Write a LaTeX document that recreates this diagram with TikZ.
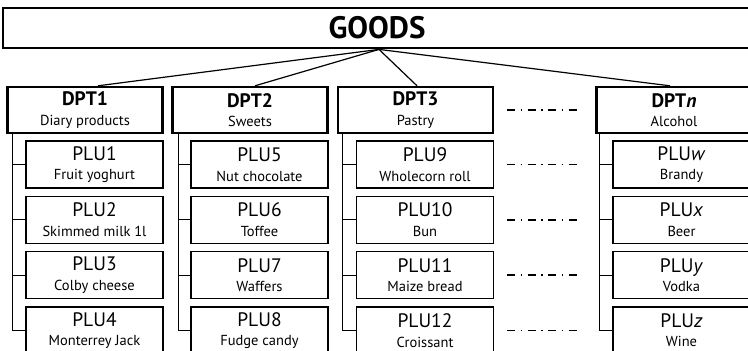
\documentclass[tikz,border=0pt]{standalone}
\usepackage{fontspec}
\setmainfont{PT Sans}
\usetikzlibrary{calc}
\newcommand{\dtitle}[1]{{\fontsize{19.5}{19.5}\selectfont\bfseries #1}}
\newcommand{\ptitle}[1]{{\fontsize{19.5}{19.5}\selectfont #1}}
\tikzset{
  goodsbox/.style={draw, line width=2.8pt, minimum width=748pt, minimum height=40pt, inner sep=0pt,
     font=\fontsize{31}{32}\selectfont\bfseries},
  dptbox/.style={draw, line width=2.4pt, minimum width=155pt, minimum height=46pt, inner sep=0pt,
     align=center, font=\fontsize{14.5}{19.5}\selectfont},
  plubox/.style={draw, line width=1.2pt, minimum width=137pt, minimum height=47pt, inner sep=0pt,
     align=center, font=\fontsize{14.5}{19.5}\selectfont},
  tree/.style={line width=1pt},
  link/.style={line width=1.2pt},
  dashdotline/.style={line width=1.5pt, dash pattern=on 8pt off 5.5pt on 1.5pt off 5.5pt}
}
\begin{document}
\begin{tikzpicture}[x=1pt,y=-1pt]
\useasboundingbox (0,0) rectangle (748,351);
\fill[white] (0,0) rectangle (748,351);
\clip (0,0) rectangle (748,351);

\node[goodsbox] (goods) at (377,28) {GOODS};

\node[dptbox] (d1) at (85,110) {\dtitle{DPT1}\\Diary products};
\node[dptbox] (d2) at (250,110) {\dtitle{DPT2}\\Sweets};
\node[dptbox] (d3) at (415.5,110) {\dtitle{DPT3}\\Pastry};
\node[dptbox] (dn) at (674,110) {\dtitle{DPT\textit{n}}\\Alcohol};

\draw[link] ([xshift=2pt]goods.south) -- ([xshift=13pt]d1.north);
\draw[link] ([xshift=2pt]goods.south) -- ([xshift=5pt]d2.north);
\draw[link] ([xshift=2pt]goods.south) -- ([xshift=1.5pt]d3.north);
\draw[link] ([xshift=2pt]goods.south) -- ([xshift=-4pt]dn.north);

% group 1
\node[plubox] (p11) at (94.5,164.5) {\ptitle{PLU1}\\Fruit yoghurt};
\node[plubox] (p12) at (94.5,219.8) {\ptitle{PLU2}\\Skimmed milk 1l};
\node[plubox] (p13) at (94.5,275.1) {\ptitle{PLU3}\\Colby cheese};
\node[plubox] (p14) at (94.5,330.4) {\ptitle{PLU4}\\Monterrey Jack};
% group 2
\node[plubox] (p21) at (259.5,164.5) {\ptitle{PLU5}\\Nut chocolate};
\node[plubox] (p22) at (259.5,219.8) {\ptitle{PLU6}\\Toffee};
\node[plubox] (p23) at (259.5,275.1) {\ptitle{PLU7}\\Waffers};
\node[plubox] (p24) at (259.5,330.4) {\ptitle{PLU8}\\Fudge candy};
% group 3
\node[plubox] (p31) at (425,164.5) {\ptitle{PLU9}\\Wholecorn roll};
\node[plubox] (p32) at (425,219.8) {\ptitle{PLU10}\\Bun};
\node[plubox] (p33) at (425,275.1) {\ptitle{PLU11}\\Maize bread};
\node[plubox] (p34) at (425,330.4) {\ptitle{PLU12}\\Croissant};
% group n
\node[plubox] (pn1) at (681.5,164.5) {\ptitle{PLU\textit{w}}\\Brandy};
\node[plubox] (pn2) at (681.5,219.8) {\ptitle{PLU\textit{x}}\\Beer};
\node[plubox] (pn3) at (681.5,275.1) {\ptitle{PLU\textit{y}}\\Vodka};
\node[plubox] (pn4) at (681.5,330.4) {\ptitle{PLU\textit{z}}\\Wine};

\foreach \g/\off in {1/6,2/7,3/5.5,n/4}{
  \foreach \k in {1,2,3,4}{
    \draw[tree] (p\g\k.west) -| ([xshift=\off pt]d\g.south west);
  }
}

\foreach \yy in {110,164.5,219.8,275.1,330.4}{
  \draw[dashdotline] (507,\yy) -- (581,\yy);
}
\end{tikzpicture}
\end{document}
